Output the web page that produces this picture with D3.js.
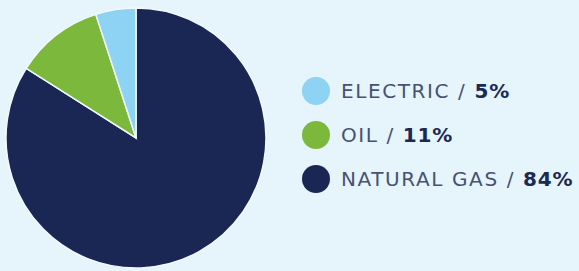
<!DOCTYPE html>
<html lang="en">
<head>
    <meta charset="UTF-8">
    <title>Heating Fuel Share</title>
    <script src="https://d3js.org/d3.v7.min.js"></script>
    <style>
        body { margin: 0; background: #e6f4fc; }
        .label { font-family: "DejaVu Sans", sans-serif; font-size: 20px; fill: #465272; letter-spacing: 1.6px; }
        .pct { font-weight: bold; fill: #1b2954; letter-spacing: 0.8px; }
    </style>
</head>
<body>

<svg width="579" height="271"></svg>

<script>
    // Data
    const fuels = ["NATURAL GAS", "OIL", "ELECTRIC"];
    const shares = [84, 11, 5];
    const colors = ["#1a2754", "#7cb83b", "#8ed3f4"];

    // Legend order (top to bottom)
    const legendOrder = ["ELECTRIC", "OIL", "NATURAL GAS"];

    const width = 579, height = 271;
    const cx = 136, cy = 138, radius = 130;

    const svg = d3.select("svg");

    svg.append("rect")
        .attr("width", width)
        .attr("height", height)
        .attr("fill", "#e6f4fc");

    const color = d3.scaleOrdinal().domain(fuels).range(colors);

    // Pie, clockwise from 12 o'clock in data order
    const pie = d3.pie().sort(null).value((d, i) => shares[i]);
    const arc = d3.arc().innerRadius(0).outerRadius(radius);

    const g = svg.append("g").attr("transform", `translate(${cx},${cy})`);

    g.selectAll("path")
        .data(pie(fuels))
        .enter()
        .append("path")
        .attr("d", arc)
        .attr("fill", d => color(d.data))
        .attr("stroke", "#f2f9fd")
        .attr("stroke-width", 1.5);

    // Legend
    const y = d3.scalePoint().domain(legendOrder).range([91, 179]);

    const item = svg.selectAll(".item")
        .data(legendOrder)
        .enter()
        .append("g")
        .attr("class", "item")
        .attr("transform", d => `translate(316,${y(d)})`);

    item.append("circle")
        .attr("r", 14)
        .attr("fill", d => color(d));

    const txt = item.append("text")
        .attr("class", "label")
        .attr("x", 25)
        .attr("dy", "0.36em");

    txt.append("tspan").text(d => d + " / ");
    txt.append("tspan")
        .attr("class", "pct")
        .text(d => shares[fuels.indexOf(d)] + "%");
</script>

</body>
</html>
